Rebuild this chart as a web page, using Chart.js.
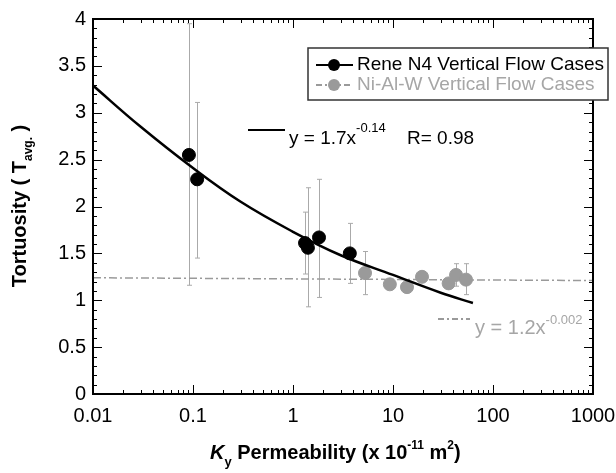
<!DOCTYPE html>
<html lang="en">
<head>
  <meta charset="UTF-8" />
  <title>Tortuosity vs permeability</title>
  <script src="https://cdn.jsdelivr.net/npm/chart.js"></script>
  <style>
    body { margin: 0; background: #fff; }
    #wrap { width: 616px; height: 473px; }
  </style>
</head>
<body>
  <div id="wrap"><canvas id="chart" width="616" height="473"></canvas></div>

  <script>
    // Rene N4 vertical flow cases
    const reneK = [0.091, 0.11, 1.32, 1.41, 1.82, 3.7];
    const reneT = [2.55, 2.29, 1.61, 1.56, 1.67, 1.50];
    const reneHi = [3.95, 3.11, 1.94, 2.20, 2.29, 1.82];
    const reneLo = [1.16, 1.45, 1.28, 0.93, 1.03, 1.18];

    // Ni-Al-W vertical flow cases
    const nialK = [5.25, 9.3, 13.8, 19.5, 36, 42.7, 53.7];
    const nialT = [1.29, 1.17, 1.14, 1.25, 1.18, 1.27, 1.22];
    const nialHi = [1.52, null, null, null, null, 1.39, 1.39];
    const nialLo = [1.06, null, null, null, null, 1.15, 1.06];

    // fitted curves
    const fitReneK = [0.01, 0.03, 0.1, 0.3, 1, 3, 10, 30, 63];
    const fitReneT = [3.29, 2.85, 2.41, 2.05, 1.73, 1.48, 1.27, 1.08, 0.97];
    const fitNialK = [0.01, 1000];
    const fitNialT = [1.24, 1.21];

    const xTicks = [0.01, 0.1, 1, 10, 100, 1000];
    const xTickLabels = ['0.01', '0.1', '1', '10', '100', '1000'];
    const yTicks = [0, 0.5, 1, 1.5, 2, 2.5, 3, 3.5, 4];
    const yTickLabels = ['0', '0.5', '1', '1.5', '2', '2.5', '3', '3.5', '4'];

    const FONT = "Arial, 'Liberation Sans', sans-serif";
    const GREY = '#9a9a9a';
    const GREY_TEXT = '#a6a6a6';
    const BAR = '#aaaaaa';

    const pts = (xs, ys) => xs.map((x, i) => ({ x, y: ys[i] }));

    const errorBars = {
      id: 'errorBars',
      beforeDatasetsDraw(chart) {
        const { ctx, chartArea: a, scales: { x, y } } = chart;
        ctx.save();
        ctx.beginPath();
        ctx.rect(a.left, a.top, a.right - a.left, a.bottom - a.top);
        ctx.clip();
        ctx.strokeStyle = BAR;
        ctx.lineWidth = 1;
        const draw = (ks, his, los) => {
          ks.forEach((k, i) => {
            if (his[i] == null) return;
            const px = Math.round(x.getPixelForValue(k)) + 0.5;
            const top = y.getPixelForValue(his[i]);
            const bot = y.getPixelForValue(los[i]);
            ctx.beginPath();
            ctx.moveTo(px, top); ctx.lineTo(px, bot);
            ctx.moveTo(px - 2.5, top); ctx.lineTo(px + 2.5, top);
            ctx.moveTo(px - 2.5, bot); ctx.lineTo(px + 2.5, bot);
            ctx.stroke();
          });
        };
        draw(nialK, nialHi, nialLo);
        draw(reneK, reneHi, reneLo);
        ctx.restore();
      }
    };

    function textRun(ctx, parts, x0, y0) {
      // parts: [text, font, dy, color]
      let x = x0;
      parts.forEach(([t, f, dy, c]) => {
        ctx.font = f;
        ctx.fillStyle = c || '#000';
        ctx.fillText(t, x, y0 + dy);
        x += ctx.measureText(t).width;
      });
      return x - x0;
    }

    const decorations = {
      id: 'decorations',
      afterDraw(chart) {
        const { ctx, chartArea: a, scales: { x, y } } = chart;
        ctx.save();

        // frame
        ctx.strokeStyle = '#000';
        ctx.lineWidth = 2;
        ctx.strokeRect(a.left, a.top, a.right - a.left, a.bottom - a.top);

        // inward ticks on all four sides
        ctx.lineWidth = 1;
        const tickX = (v, len) => {
          const px = Math.round(x.getPixelForValue(v)) + 0.5;
          ctx.beginPath();
          ctx.moveTo(px, a.bottom); ctx.lineTo(px, a.bottom - len);
          ctx.moveTo(px, a.top); ctx.lineTo(px, a.top + len);
          ctx.stroke();
        };
        const tickY = (v, len) => {
          const py = Math.round(y.getPixelForValue(v)) + 0.5;
          ctx.beginPath();
          ctx.moveTo(a.left, py); ctx.lineTo(a.left + len, py);
          ctx.moveTo(a.right, py); ctx.lineTo(a.right - len, py);
          ctx.stroke();
        };
        xTicks.forEach(v => tickX(v, 9));
        for (let d = 0; d < xTicks.length - 1; d++) {
          for (let m = 2; m <= 9; m++) tickX(xTicks[d] * m, 4);
        }
        yTicks.forEach(v => tickY(v, 9));
        for (let i = 1; i < 40; i++) {
          if (i % 5) tickY(i / 10, 4);
        }

        // legend box
        ctx.fillStyle = '#fff';
        ctx.fillRect(308, 48, 300, 52);
        ctx.strokeStyle = '#333';
        ctx.lineWidth = 1.5;
        ctx.strokeRect(308, 48, 300, 52);

        ctx.textBaseline = 'middle';
        ctx.textAlign = 'left';
        ctx.strokeStyle = '#000';
        ctx.lineWidth = 2;
        ctx.beginPath(); ctx.moveTo(316, 65); ctx.lineTo(353, 65); ctx.stroke();
        ctx.fillStyle = '#000';
        ctx.beginPath(); ctx.arc(334, 65, 6, 0, Math.PI * 2); ctx.fill();
        ctx.font = '19px ' + FONT;
        ctx.fillText('Rene N4 Vertical Flow Cases', 357, 65);

        ctx.strokeStyle = GREY;
        ctx.setLineDash([6, 3, 2, 3]);
        ctx.beginPath(); ctx.moveTo(316, 85); ctx.lineTo(353, 85); ctx.stroke();
        ctx.setLineDash([]);
        ctx.fillStyle = GREY;
        ctx.beginPath(); ctx.arc(334, 85, 6, 0, Math.PI * 2); ctx.fill();
        ctx.fillStyle = GREY_TEXT;
        ctx.fillText('Ni-Al-W Vertical Flow Cases', 357, 85);

        // fit equations
        ctx.textBaseline = 'alphabetic';
        ctx.strokeStyle = '#000';
        ctx.lineWidth = 2;
        ctx.beginPath(); ctx.moveTo(248, 130); ctx.lineTo(285, 130); ctx.stroke();
        textRun(ctx, [
          ['y = 1.7x', '19px ' + FONT, 0],
          ['-0.14', '13px ' + FONT, -12]
        ], 289, 144);
        textRun(ctx, [['R= 0.98', '19px ' + FONT, 0]], 407, 144);

        ctx.strokeStyle = GREY;
        ctx.setLineDash([6, 3, 2, 3]);
        ctx.beginPath(); ctx.moveTo(438, 319); ctx.lineTo(470, 319); ctx.stroke();
        ctx.setLineDash([]);
        textRun(ctx, [
          ['y = 1.2x', '20px ' + FONT, 0, GREY_TEXT],
          ['-0.002', '13px ' + FONT, -10, GREY_TEXT]
        ], 475, 334);

        // x axis title
        textRun(ctx, [
          ['K', 'italic bold 20px ' + FONT, 0],
          ['y', 'bold 13px ' + FONT, 7],
          [' Permeability (x 10', 'bold 20px ' + FONT, 0],
          ['-11', 'bold 12px ' + FONT, -10],
          [' m', 'bold 20px ' + FONT, 0],
          ['2', 'bold 12px ' + FONT, -10],
          [')', 'bold 20px ' + FONT, 0]
        ], 210, 459);

        // y axis title (rotated)
        ctx.translate(26, 206);
        ctx.rotate(-Math.PI / 2);
        const yParts = [
          ['Tortuosity ( T', 'bold 20px ' + FONT, 0],
          ['avg.', 'bold 12px ' + FONT, 6],
          [' )', 'bold 20px ' + FONT, 0]
        ];
        let w = 0;
        yParts.forEach(([t, f]) => { ctx.font = f; w += ctx.measureText(t).width; });
        textRun(ctx, yParts, -w / 2, 0);

        ctx.restore();
      }
    };

    new Chart(document.getElementById('chart'), {
      type: 'scatter',
      data: {
        datasets: [
          {
            label: 'Rene N4 Vertical Flow Cases',
            data: pts(reneK, reneT),
            backgroundColor: '#000',
            borderColor: '#000',
            pointRadius: 6.5,
            order: 0
          },
          {
            label: 'fit Rene',
            type: 'line',
            data: pts(fitReneK, fitReneT),
            borderColor: '#000',
            borderWidth: 2.5,
            pointRadius: 0,
            tension: 0.4,
            fill: false,
            order: 1
          },
          {
            label: 'Ni-Al-W Vertical Flow Cases',
            data: pts(nialK, nialT),
            backgroundColor: GREY,
            borderColor: GREY,
            pointRadius: 6.5,
            order: 2
          },
          {
            label: 'fit Ni-Al-W',
            type: 'line',
            data: pts(fitNialK, fitNialT),
            borderColor: GREY,
            borderWidth: 1.5,
            borderDash: [8, 3, 2, 3],
            pointRadius: 0,
            fill: false,
            order: 3
          }
        ]
      },
      options: {
        responsive: false,
        animation: false,
        layout: { padding: { left: 0, top: 19, right: 23, bottom: 0 } },
        plugins: { legend: { display: false }, tooltip: { enabled: false } },
        scales: {
          x: {
            type: 'logarithmic',
            min: 0.01,
            max: 1000,
            grid: { display: false, drawTicks: false },
            border: { display: false },
            afterBuildTicks: s => { s.ticks = xTicks.map(v => ({ value: v })); },
            afterFit: s => { s.height = 79; s.paddingLeft = 0; s.paddingRight = 0; },
            ticks: {
              autoSkip: false,
              maxRotation: 0,
              padding: 10,
              color: '#000',
              font: { family: FONT, size: 20 },
              callback: (v, i) => xTickLabels[i]
            }
          },
          y: {
            type: 'linear',
            min: 0,
            max: 4,
            grid: { display: false, drawTicks: false },
            border: { display: false },
            afterBuildTicks: s => { s.ticks = yTicks.map(v => ({ value: v })); },
            afterFit: s => { s.width = 93; s.paddingTop = 0; s.paddingBottom = 0; },
            ticks: {
              padding: 7,
              color: '#000',
              font: { family: FONT, size: 20 },
              callback: (v, i) => yTickLabels[i]
            }
          }
        }
      },
      plugins: [errorBars, decorations]
    });
  </script>
</body>
</html>
